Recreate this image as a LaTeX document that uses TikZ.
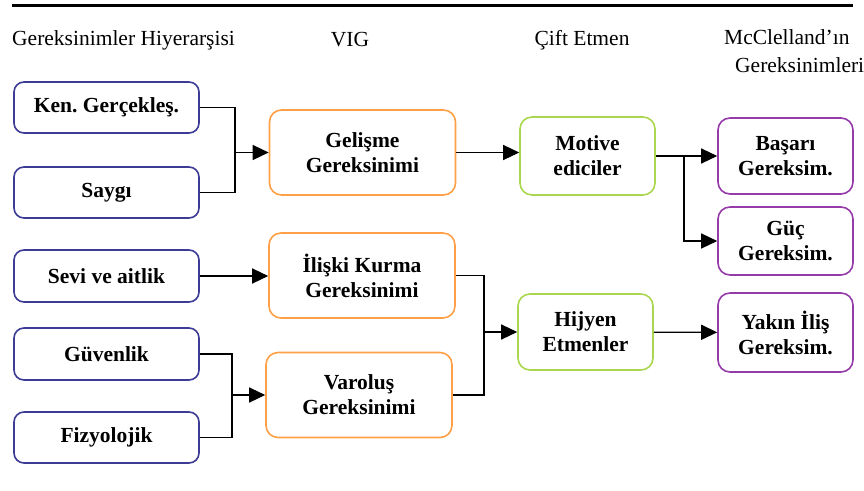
\documentclass[tikz,border=0pt]{standalone}
\usepackage{fontspec}
\setmainfont{Liberation Serif}
\usepackage{xcolor}
\usetikzlibrary{arrows.meta, positioning}
\definecolor{needblue}{RGB}{60,60,150}
\definecolor{vigorange}{RGB}{255,160,70}
\definecolor{factgreen}{RGB}{170,215,80}
\definecolor{mcpurple}{RGB}{150,60,170}
\tikzstyle{need} = [rectangle, rounded corners=10pt, minimum width=185pt, minimum height=51pt, text centered, draw=needblue, line width=1.6pt, font=\fontsize{21.5}{25}\selectfont\bfseries]
\tikzstyle{vig} = [rectangle, rounded corners=12pt, minimum width=186pt, minimum height=85pt, align=center, draw=vigorange, line width=1.6pt, font=\fontsize{21.5}{25}\selectfont\bfseries]
\tikzstyle{factor} = [rectangle, rounded corners=12pt, minimum width=135pt, minimum height=77pt, align=center, draw=factgreen, line width=1.6pt, font=\fontsize{21.5}{25}\selectfont\bfseries]
\tikzstyle{mcneed} = [rectangle, rounded corners=12pt, minimum width=135pt, minimum height=76pt, align=center, draw=mcpurple, line width=1.6pt, font=\fontsize{21.5}{25}\selectfont\bfseries]
\tikzstyle{header} = [font=\fontsize{21.5}{28}\selectfont, inner sep=0pt]
\tikzstyle{arrow} = [line width=1.3pt,-{Triangle[length=16pt,width=15pt]}]
\tikzstyle{line} = [line width=1.3pt,-]

\begin{document}
\frenchspacing
\begin{tikzpicture}[x=1pt, y=-1pt]
\useasboundingbox (0,0) rectangle (864,490);

% Top rule
\draw [line width=3pt] (12,5) -- (853,5);

% Column titles
\node (h-maslow) [header, anchor=west] at (12,40) {Gereksinimler Hiyerarşisi};
\node (h-vig) [header] at (350,40) {VIG};
\node (h-herz) [header] at (582,40) {Çift Etmen};
\node (h-mc) [header, anchor=north west, align=left] at (724,29) {McClelland’ın\\\hspace*{11pt}Gereksinimleri};

% Maslow
\node (ken) [need] at (106.5,107.5) {Ken. Gerçekleş.};
\node (saygi) [need] at (106.5,192.5) {Saygı};
\node (sevi) [need, minimum height=52pt] at (106.5,276) {Sevi ve aitlik};
\node (guvenlik) [need, minimum height=52pt] at (106.5,354) {Güvenlik};
\node (fizyo) [need] at (106.5,437.5) {Fizyolojik};

% VIG
\node (gelisme) [vig] at (362.5,152.5) {Gelişme\\Gereksinimi};
\node (iliski) [vig] at (362,275.5) {İlişki Kurma\\Gereksinimi};
\node (varolus) [vig] at (359,395) {Varoluş\\Gereksinimi};

% Cift etmen
\node (motive) [factor, minimum height=78pt] at (587.5,156) {Motive\\ediciler};
\node (hijyen) [factor, minimum height=76pt] at (585.5,332) {Hijyen\\Etmenler};

% McClelland
\node (basari) [mcneed] at (785.5,156) {Başarı\\Gereksim.};
\node (guc) [mcneed, minimum height=68pt] at (785.5,241) {Güç\\Gereksim.};
\node (yakin) [mcneed, minimum height=79pt] at (785.5,332.5) {Yakın İliş\\Gereksim.};

% Junctions
\coordinate (j-top) at (235,152.5);
\coordinate (j-bot) at (232,395);
\coordinate (j-hyg) at (484,332);
\coordinate (j-mot) at (684,156);

% Arrows
\draw [line] (ken.east) -| (j-top) |- (saygi.east);
\draw [arrow] (j-top) -- (gelisme);
\draw [arrow] (sevi) -- (sevi -| iliski.west);
\draw [line] (guvenlik.east) -| (j-bot) |- (fizyo.east);
\draw [arrow] (j-bot) -- (varolus);
\draw [arrow] (gelisme) -- (gelisme -| motive.west);
\draw [line] (iliski.east) -| (j-hyg) |- (varolus.east);
\draw [arrow] (j-hyg) -- (hijyen);
\draw [arrow] (motive) -- (basari);
\draw [arrow] (j-mot) |- (guc);
\draw [arrow] (hijyen) -- (yakin);

\end{tikzpicture}
\end{document}
